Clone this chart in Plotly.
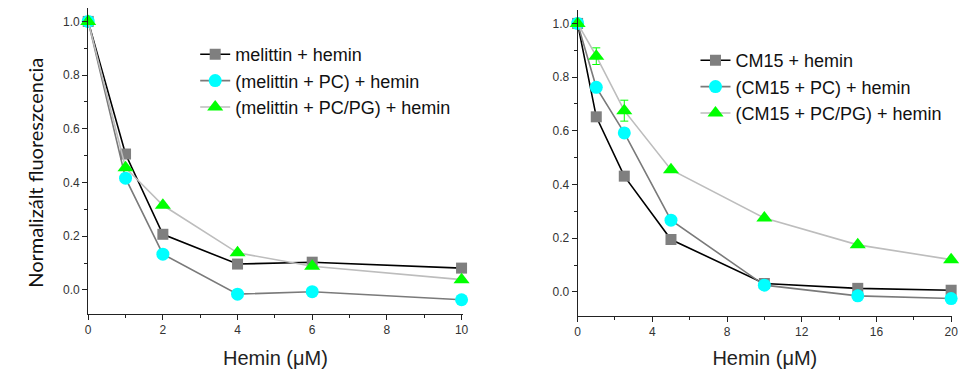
import plotly.graph_objects as go

# Hemin concentrations (µM)
hemin_mel = [0, 1, 2, 4, 6, 10]
hemin_cm15 = [0, 1, 2.5, 5, 10, 15, 20]

# Normalized fluorescence, melittin panel
mel = [1.0, 0.506, 0.207, 0.096, 0.103, 0.081]
mel_pc = [1.0, 0.416, 0.133, -0.016, -0.007, -0.037]
mel_pcpg = [1.0, 0.455, 0.315, 0.138, 0.088, 0.038]

# Normalized fluorescence, CM15 panel
cm = [1.0, 0.652, 0.431, 0.195, 0.031, 0.013, 0.006]
cm_pc = [1.0, 0.762, 0.592, 0.267, 0.025, -0.015, -0.025]
cm_pcpg = [1.0, 0.878, 0.675, 0.455, 0.275, 0.175, 0.12]
cm_pcpg_err = [0.0, 0.031, 0.039, 0.0, 0.0, 0.0, 0.0]

names_mel = ["melittin + hemin", "(melittin + PC) + hemin", "(melittin + PC/PG) + hemin"]
names_cm = ["CM15 + hemin", "(CM15 + PC) + hemin", "(CM15 + PC/PG) + hemin"]

W, H = 966, 369
FONT = "Liberation Sans, Arial, sans-serif"

styles = [
    dict(line=dict(color="#000000", width=1.6), marker=dict(symbol="square", color="#7f7f7f", size=11)),
    dict(line=dict(color="#7a7a7a", width=1.6), marker=dict(symbol="circle", color="#00ffff", size=13)),
    dict(line=dict(color="#bdbdbd", width=1.6), marker=dict(symbol="triangle-up", color="#00ff00", size=14)),
]

fig = go.Figure()

for ys, name, st in zip([mel, mel_pc, mel_pcpg], names_mel, styles):
    fig.add_trace(go.Scatter(x=hemin_mel, y=ys, name=name, mode="lines+markers",
                             xaxis="x", yaxis="y", legend="legend", cliponaxis=False, **st))

for i, (ys, name, st) in enumerate(zip([cm, cm_pc, cm_pcpg], names_cm, styles)):
    extra = {}
    if i == 2:
        extra["error_y"] = dict(type="data", array=cm_pcpg_err, color="#00ff00",
                                thickness=1, width=4)
    fig.add_trace(go.Scatter(x=hemin_cm15, y=ys, name=name, mode="lines+markers",
                             xaxis="x2", yaxis="y2", legend="legend2", cliponaxis=False,
                             **st, **extra))

axis_common = dict(showline=True, linecolor="#222222", linewidth=1, showgrid=False,
                   zeroline=False, ticks="outside", ticklen=5, tickcolor="#222222",
                   tickfont=dict(family=FONT, size=12, color="#333333"))

title_font = dict(family=FONT, size=20, color="#222222")
legend_font = dict(family=FONT, size=18, color="#111111")

ydom = [(H - 314) / H, (H - 8) / H]
yrange = [-0.09, 1.05]

fig.update_layout(
    width=W, height=H,
    margin=dict(l=0, r=0, t=0, b=0),
    paper_bgcolor="white", plot_bgcolor="white",
    font=dict(family=FONT, color="#222222"),
    xaxis=dict(domain=[86 / W, 464 / W], range=[0, 10.03], dtick=2, anchor="y",
               minor=dict(ticks="outside", ticklen=3, dtick=1, tickcolor="#222222"),
               title=dict(text="Hemin (μM)", font=title_font, standoff=14),
               **axis_common),
    yaxis=dict(domain=ydom, range=yrange, dtick=0.2, tickformat=".1f", anchor="x",
               minor=dict(ticks="outside", ticklen=3, dtick=0.1, tickcolor="#222222"),
               **axis_common),
    xaxis2=dict(domain=[580 / W, 958 / W], range=[0, 20.05], dtick=4, anchor="y2",
                minor=dict(ticks="outside", ticklen=3, dtick=2, tickcolor="#222222"),
                title=dict(text="Hemin (μM)", font=title_font, standoff=14),
                **axis_common),
    yaxis2=dict(domain=[(H - 316) / H, (H - 10) / H], range=yrange, dtick=0.2, tickformat=".1f",
                anchor="x2",
                minor=dict(ticks="outside", ticklen=3, dtick=0.1, tickcolor="#222222"),
                **axis_common),
    legend=dict(x=194 / W, y=1 - 36 / H, xanchor="left", yanchor="top",
                bgcolor="rgba(0,0,0,0)", font=legend_font, tracegroupgap=0),
    legend2=dict(x=699 / W, y=1 - 42 / H, xanchor="left", yanchor="top",
                 bgcolor="rgba(0,0,0,0)", font=legend_font, tracegroupgap=0),
    annotations=[dict(text="Normalizált fluoreszcencia", textangle=-90, x=18 / W, y=1 - 173 / H,
                      xref="paper", yref="paper", showarrow=False,
                      font=dict(family="Lato, Open Sans, sans-serif", size=20, color="#111111"))],
)

fig.write_html("out.html")
